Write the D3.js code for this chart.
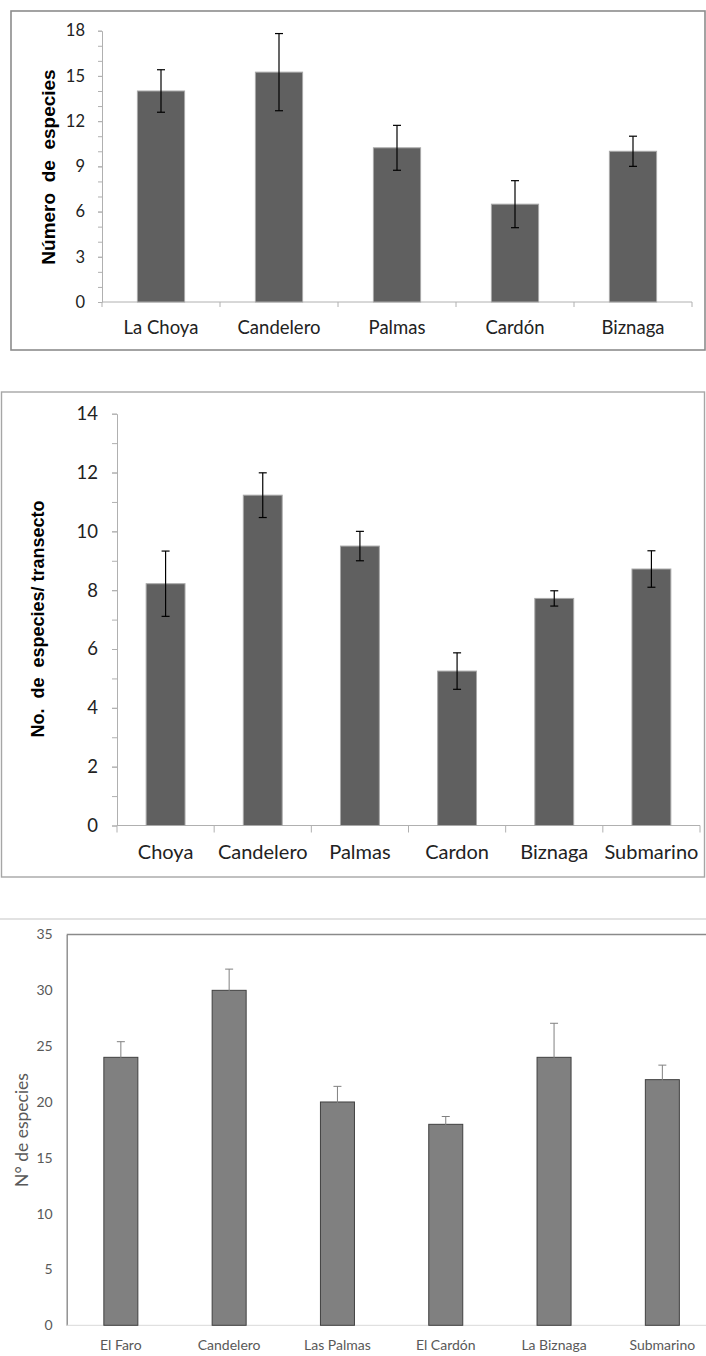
<!DOCTYPE html>
<html>
<head>
<meta charset="utf-8">
<script src="https://cdn.jsdelivr.net/npm/d3@7"></script>
<style>
  body { margin: 0; background: #fff; }
  text { white-space: pre; }
</style>
</head>
<body>
<div id="chart"></div>
<script>
// panel 1
const sites1 = ["La Choya", "Candelero", "Palmas", "Cardón", "Biznaga"];
const mean1 = [14, 15.25, 10.23, 6.49, 10];
const err1 = [1.41, 2.56, 1.49, 1.56, 1.0];
const yTicks1 = [0, 3, 6, 9, 12, 15, 18];

// panel 2
const sites2 = ["Choya", "Candelero", "Palmas", "Cardon", "Biznaga", "Submarino"];
const mean2 = [8.22, 11.23, 9.5, 5.25, 7.72, 8.72];
const err2 = [1.11, 0.76, 0.5, 0.62, 0.26, 0.62];
const yTicks2 = [0, 2, 4, 6, 8, 10, 12, 14];

// panel 3
const sites3 = ["El Faro", "Candelero", "Las Palmas", "El Cardón", "La Biznaga", "Submarino"];
const mean3 = [24, 30, 20, 18, 24, 22];
const err3 = [1.4, 1.9, 1.4, 0.7, 3.05, 1.3];
const yTicks3 = [0, 5, 10, 15, 20, 25, 30, 35];

var width = 706, height = 1356;

var svg = d3.select("#chart").append("svg")
  .attr("width", width)
  .attr("height", height);

svg.append("rect").attr("width", width).attr("height", height).attr("fill", "#fff");

function drawPanel(cfg, sites, means, errs, ticks) {
  var g = svg.append("g");

  var x = d3.scaleBand().domain(sites).range([cfg.x0, cfg.x1]).padding(0);
  var y = d3.scaleLinear().domain([0, d3.max(ticks)]).range([cfg.y0, cfg.y1]);
  var bw = x.bandwidth() * cfg.barRatio;

  // minor ticks (Excel style, every unit)
  if (cfg.minor) {
    g.append("g")
      .attr("transform", "translate(" + cfg.x0 + ",0)")
      .call(d3.axisLeft(y).tickValues(d3.range(0, d3.max(ticks) + 1, 1)).tickSize(cfg.yTick).tickFormat(""))
      .call(a => a.select(".domain").remove())
      .selectAll("line").attr("stroke", cfg.axisColor);
  }

  // y axis
  var yAxis = g.append("g")
    .attr("transform", "translate(" + cfg.x0 + ",0)")
    .call(d3.axisLeft(y).tickValues(ticks).tickSize(cfg.yTick).tickPadding(cfg.yPad).tickSizeOuter(0));
  yAxis.select(".domain").attr("stroke", cfg.yAxisColor || cfg.axisColor).attr("stroke-width", cfg.yAxisWidth || 1);
  yAxis.selectAll("line").attr("stroke", cfg.axisColor);
  yAxis.selectAll("text")
    .style("font-family", "Lato, 'Open Sans', sans-serif")
    .style("font-size", cfg.tickFont + "px")
    .attr("fill", cfg.textColor);

  // x axis line + boundary ticks
  g.append("line")
    .attr("x1", cfg.x0).attr("x2", cfg.x1)
    .attr("y1", y(0)).attr("y2", y(0))
    .attr("stroke", cfg.baseColor || cfg.axisColor).attr("stroke-width", 1);
  if (cfg.xTick) {
    g.selectAll(".xtick")
      .data(sites.map(d => x(d)).concat([cfg.x1]))
      .enter().append("line")
      .attr("x1", d => d).attr("x2", d => d)
      .attr("y1", y(0)).attr("y2", y(0) + cfg.xTick)
      .attr("stroke", cfg.axisColor);
  }

  g.selectAll(".xlab")
    .data(sites)
    .enter().append("text")
    .attr("x", d => x(d) + x.bandwidth() / 2)
    .attr("y", cfg.labelY)
    .attr("text-anchor", "middle")
    .style("font-family", "Lato, 'Open Sans', sans-serif")
    .style("font-size", cfg.labelFont + "px")
    .attr("fill", cfg.textColor)
    .text(d => d);

  // bars
  g.selectAll(".bar")
    .data(sites)
    .enter().append("rect")
    .attr("x", d => x(d) + (x.bandwidth() - bw) / 2)
    .attr("y", (d, i) => y(means[i]))
    .attr("width", bw)
    .attr("height", (d, i) => y(0) - y(means[i]))
    .attr("fill", cfg.barColor)
    .attr("stroke", cfg.barStroke)
    .attr("stroke-width", 1);

  // error bars
  var eb = g.selectAll(".err")
    .data(sites)
    .enter().append("g")
    .attr("stroke", cfg.errColor)
    .attr("stroke-width", cfg.errWidth);
  eb.append("line")
    .attr("x1", d => x(d) + x.bandwidth() / 2)
    .attr("x2", d => x(d) + x.bandwidth() / 2)
    .attr("y1", (d, i) => y(means[i] + errs[i]))
    .attr("y2", (d, i) => y(means[i] - errs[i]));
  [1, -1].forEach(function (s) {
    eb.append("line")
      .attr("x1", d => x(d) + x.bandwidth() / 2 - 4)
      .attr("x2", d => x(d) + x.bandwidth() / 2 + 4)
      .attr("y1", (d, i) => y(means[i] + s * errs[i]))
      .attr("y2", (d, i) => y(means[i] + s * errs[i]));
  });

  // y title
  g.append("text")
    .attr("transform", "translate(" + cfg.titleX + "," + cfg.titleY + ") rotate(-90)")
    .attr("text-anchor", "middle")
    .style("font-family", cfg.titleFamily)
    .style("font-weight", cfg.titleWeight)
    .style("font-size", cfg.titleFont + "px")
    .attr("fill", cfg.titleColor)
    .text(cfg.title);

  return g;
}

// frames
svg.append("rect")
  .attr("x", 11).attr("y", 11).attr("width", 694).attr("height", 339)
  .attr("fill", "none").attr("stroke", "#8c8c8c").attr("stroke-width", 1.6);

svg.append("rect")
  .attr("x", 1.5).attr("y", 392).attr("width", 703).attr("height", 485)
  .attr("fill", "none").attr("stroke", "#a6a6a6").attr("stroke-width", 1.4);

svg.append("line")
  .attr("x1", 0).attr("x2", width).attr("y1", 919).attr("y2", 919)
  .attr("stroke", "#d9d9d9").attr("stroke-width", 1.5);

drawPanel({
  x0: 102, x1: 692, y0: 302, y1: 30.7, barRatio: 0.4, minor: true,
  yTick: 4, yPad: 13, xTick: 5, axisColor: "#b0b0b0",
  tickFont: 16.5, labelFont: 18.5, labelY: 334, textColor: "#222",
  barColor: "#606060", barStroke: "#a8a8a8", errColor: "#000", errWidth: 1.2,
  title: "Número  de  especies", titleX: 55, titleY: 167, titleFont: 19,
  titleFamily: "'Liberation Sans', Arial, sans-serif", titleWeight: "bold", titleColor: "#000"
}, sites1, mean1, err1, yTicks1);

drawPanel({
  x0: 117, x1: 700, y0: 825.5, y1: 413.7, barRatio: 0.4, minor: true,
  yTick: 5, yPad: 14, xTick: 7, axisColor: "#b0b0b0",
  tickFont: 18.5, labelFont: 20, labelY: 859, textColor: "#222",
  barColor: "#606060", barStroke: "#a8a8a8", errColor: "#000", errWidth: 1.2,
  title: "No.  de  especies/ transecto", titleX: 44, titleY: 619, titleFont: 18,
  titleFamily: "'Liberation Sans', Arial, sans-serif", titleWeight: "bold", titleColor: "#000"
}, sites2, mean2, err2, yTicks2);

// panel 3 plot frame (top + left edges)
svg.append("line")
  .attr("x1", 66.7).attr("x2", width).attr("y1", 934.5).attr("y2", 934.5)
  .attr("stroke", "#8a8a8a").attr("stroke-width", 1.4);

drawPanel({
  x0: 66.7, x1: 716.5, y0: 1325.3, y1: 934.5, barRatio: 0.314, minor: false,
  yTick: 0, yPad: 14, xTick: 0, axisColor: "#8a8a8a", baseColor: "#d9d9d9",
  yAxisColor: "#8a8a8a", yAxisWidth: 1.4,
  tickFont: 14, labelFont: 14, labelY: 1350, textColor: "#595959",
  barColor: "#808080", barStroke: "#404040", errColor: "#808080", errWidth: 1,
  title: "N° de especies", titleX: 28, titleY: 1130, titleFont: 17.5,
  titleFamily: "Lato, 'Open Sans', sans-serif", titleWeight: "normal", titleColor: "#595959"
}, sites3, mean3, err3, yTicks3);
</script>
</body>
</html>
